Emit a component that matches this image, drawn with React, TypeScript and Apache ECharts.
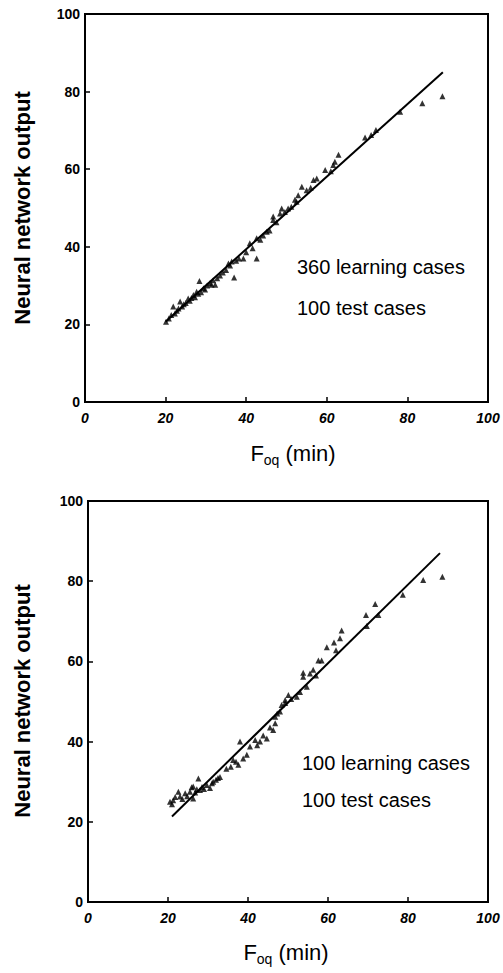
import React, { useEffect, useRef } from "react";
import * as echarts from "echarts";

// Axis ticks
const axisTicks = [0, 20, 40, 60, 80, 100];

// Top panel: 360 learning cases, 100 test cases
const topPoints: number[][] = [
  [20.1, 20.7], [20.8, 21.5], [21.4, 22.4], [21.9, 24.6], [22.3, 22.8], [22.8, 23.5],
  [23.2, 24.1], [23.6, 25.9], [24.1, 24.6], [24.5, 25.2], [25.0, 25.5], [25.6, 26.7],
  [26.0, 26.1], [26.4, 26.8], [26.9, 27.6], [27.3, 27.0], [27.7, 28.4], [28.1, 27.9],
  [28.4, 31.2], [28.8, 28.3], [29.4, 29.3], [29.8, 29.0], [30.3, 30.0], [31.0, 30.6],
  [31.4, 30.2], [31.8, 31.4], [32.3, 30.2], [32.8, 31.9], [33.5, 32.6], [34.2, 33.4],
  [35.0, 34.0], [35.6, 35.7], [36.0, 35.2], [36.4, 36.2], [37.0, 32.1], [37.5, 36.4],
  [38.2, 37.0], [39.3, 37.0], [40.0, 38.6], [40.9, 40.9], [41.6, 39.6], [42.6, 37.0],
  [42.6, 42.2], [43.5, 41.8], [44.2, 42.9], [45.1, 43.9], [45.8, 44.2], [46.7, 46.9],
  [46.7, 47.8], [47.5, 46.3], [48.4, 48.6], [48.8, 49.9], [49.6, 49.0], [50.4, 49.9],
  [51.2, 50.3], [52.1, 52.1], [52.5, 51.6], [52.9, 53.3], [53.8, 55.5], [55.0, 54.6],
  [56.0, 55.2], [56.7, 57.2], [57.5, 57.6], [59.6, 59.8], [61.0, 59.5], [61.6, 61.1],
  [62.0, 61.9], [62.9, 63.7], [69.5, 68.2], [71.0, 68.8], [72.2, 70.1], [78.2, 74.8],
  [83.7, 77.0], [88.7, 78.8],
];
const topFitLine: number[][] = [[20.0, 20.7], [88.8, 85.0]];
const topLabels = ["360 learning cases", "100 test cases"];

// Bottom panel: 100 learning cases, 100 test cases
const bottomPoints: number[][] = [
  [20.5, 25.0], [21.0, 24.4], [21.3, 25.4], [21.8, 26.2], [22.6, 27.5], [23.0, 26.3],
  [23.6, 25.7], [24.3, 27.1], [24.8, 26.4], [25.5, 27.5], [25.9, 28.6], [26.3, 25.8],
  [26.3, 28.8], [26.8, 27.3], [27.2, 28.1], [27.6, 30.8], [28.0, 27.9], [28.5, 28.7],
  [29.0, 28.2], [29.7, 29.2], [30.5, 28.4], [31.0, 29.6], [31.3, 30.0], [32.0, 30.5],
  [32.5, 30.9], [33.0, 31.2], [34.6, 33.2], [35.7, 33.7], [36.3, 35.4], [37.0, 35.0],
  [37.6, 34.2], [38.0, 40.0], [38.8, 35.8], [39.7, 36.7], [40.5, 38.8], [41.8, 40.4],
  [42.3, 39.1], [43.0, 40.0], [43.8, 41.5], [44.7, 40.8], [45.5, 43.5], [46.3, 42.9],
  [46.8, 44.6], [46.8, 46.2], [47.3, 47.0], [48.0, 47.5], [48.4, 49.1], [49.3, 49.6],
  [49.3, 50.4], [50.1, 51.6], [50.8, 50.6], [52.2, 51.2], [53.0, 52.4], [53.8, 56.2],
  [53.8, 57.2], [54.7, 53.7], [55.5, 57.0], [56.3, 57.9], [57.0, 56.5], [57.6, 60.2],
  [58.4, 60.2], [59.7, 63.5], [61.5, 64.7], [62.0, 62.8], [63.0, 65.8], [63.4, 67.7],
  [69.5, 71.6], [69.7, 68.8], [71.8, 74.3], [72.6, 71.6], [78.7, 76.6], [83.8, 80.3],
  [88.6, 81.1],
];
const bottomFitLine: number[][] = [[21.0, 21.3], [88.0, 87.0]];
const bottomLabels = ["100 learning cases", "100 test cases"];

const xTitle = "{a|F}{b|oq}{a| (min)}";
const yTitle = "Neural network output";

const FONT = '"Liberation Sans", Arial, Helvetica, sans-serif';
const INK = "#000";

function makeXAxis(gridIndex: number) {
  return {
    type: "value",
    gridIndex,
    min: axisTicks[0],
    max: axisTicks[axisTicks.length - 1],
    interval: 20,
    axisLine: { show: true, lineStyle: { color: INK, width: 2 } },
    axisTick: { show: true, inside: true, length: 5, lineStyle: { color: INK, width: 1.5 } },
    axisLabel: {
      color: INK,
      fontFamily: FONT,
      fontSize: 14,
      fontWeight: "bold",
      fontStyle: "italic",
      margin: 9,
    },
    splitLine: { show: false },
  };
}

function makeYAxis(gridIndex: number) {
  return {
    type: "value",
    gridIndex,
    min: axisTicks[0],
    max: axisTicks[axisTicks.length - 1],
    interval: 20,
    axisLine: { show: true, lineStyle: { color: INK, width: 2 } },
    axisTick: { show: true, inside: true, length: 5, lineStyle: { color: INK, width: 1.5 } },
    axisLabel: {
      color: INK,
      fontFamily: FONT,
      fontSize: 14,
      fontWeight: "bold",
      margin: 5,
    },
    splitLine: { show: false },
  };
}

function scatterSeries(idx: number, data: number[][]) {
  return {
    type: "scatter",
    xAxisIndex: idx,
    yAxisIndex: idx,
    data,
    symbol: "triangle",
    symbolSize: 6,
    itemStyle: { color: INK },
    z: 3,
  };
}

function lineSeries(idx: number, data: number[][]) {
  return {
    type: "line",
    xAxisIndex: idx,
    yAxisIndex: idx,
    data,
    showSymbol: false,
    symbol: "none",
    lineStyle: { color: INK, width: 2 },
    z: 2,
  };
}

function textEl(text: string, x: number, y: number, size: number) {
  return {
    type: "text",
    x,
    y,
    style: {
      text,
      fontFamily: FONT,
      fontSize: size,
      fill: INK,
      align: "left",
      verticalAlign: "middle",
    },
  };
}

function yTitleEl(y: number) {
  return {
    type: "text",
    x: 22,
    y,
    rotation: Math.PI / 2,
    style: {
      text: yTitle,
      fontFamily: FONT,
      fontSize: 22,
      fontWeight: "bold",
      fill: INK,
      align: "center",
      verticalAlign: "middle",
    },
  };
}

const richTitle = {
  a: { fontFamily: FONT, fontSize: 22, color: INK, lineHeight: 28 },
  b: { fontFamily: FONT, fontSize: 14, color: INK, lineHeight: 12, verticalAlign: "bottom" },
};

function xTitleEl(x: number, y: number) {
  return {
    type: "text",
    x,
    y,
    style: {
      text: xTitle,
      rich: richTitle,
      align: "center",
      verticalAlign: "middle",
    },
  };
}

export default function App() {
  const ref = useRef<HTMLDivElement>(null);
  useEffect(() => {
    if (!ref.current) return;
    const chart = echarts.init(ref.current, undefined, { renderer: "svg" });
    chart.setOption({
      animation: false,
      backgroundColor: "#fff",
      grid: [
        { left: 85, top: 14, width: 403, height: 388, show: true, borderColor: INK, borderWidth: 2, backgroundColor: "transparent" },
        { left: 88, top: 501, width: 400, height: 401, show: true, borderColor: INK, borderWidth: 2, backgroundColor: "transparent" },
      ],
      xAxis: [makeXAxis(0), makeXAxis(1)],
      yAxis: [makeYAxis(0), makeYAxis(1)],
      series: [
        lineSeries(0, topFitLine),
        scatterSeries(0, topPoints),
        lineSeries(1, bottomFitLine),
        scatterSeries(1, bottomPoints),
      ],
      graphic: [
        textEl(topLabels[0], 297, 267, 20),
        textEl(topLabels[1], 297, 308, 20),
        textEl(bottomLabels[0], 302, 763, 20),
        textEl(bottomLabels[1], 302, 800, 20),
        yTitleEl(208),
        yTitleEl(701),
        xTitleEl(293, 453),
        xTitleEl(286, 952),
      ],
    });
    return () => chart.dispose();
  }, []);
  return (
    <div
      ref={ref}
      style={{ position: "absolute", left: 0, top: 0, width: 503, height: 973, background: "#fff" }}
    />
  );
}
